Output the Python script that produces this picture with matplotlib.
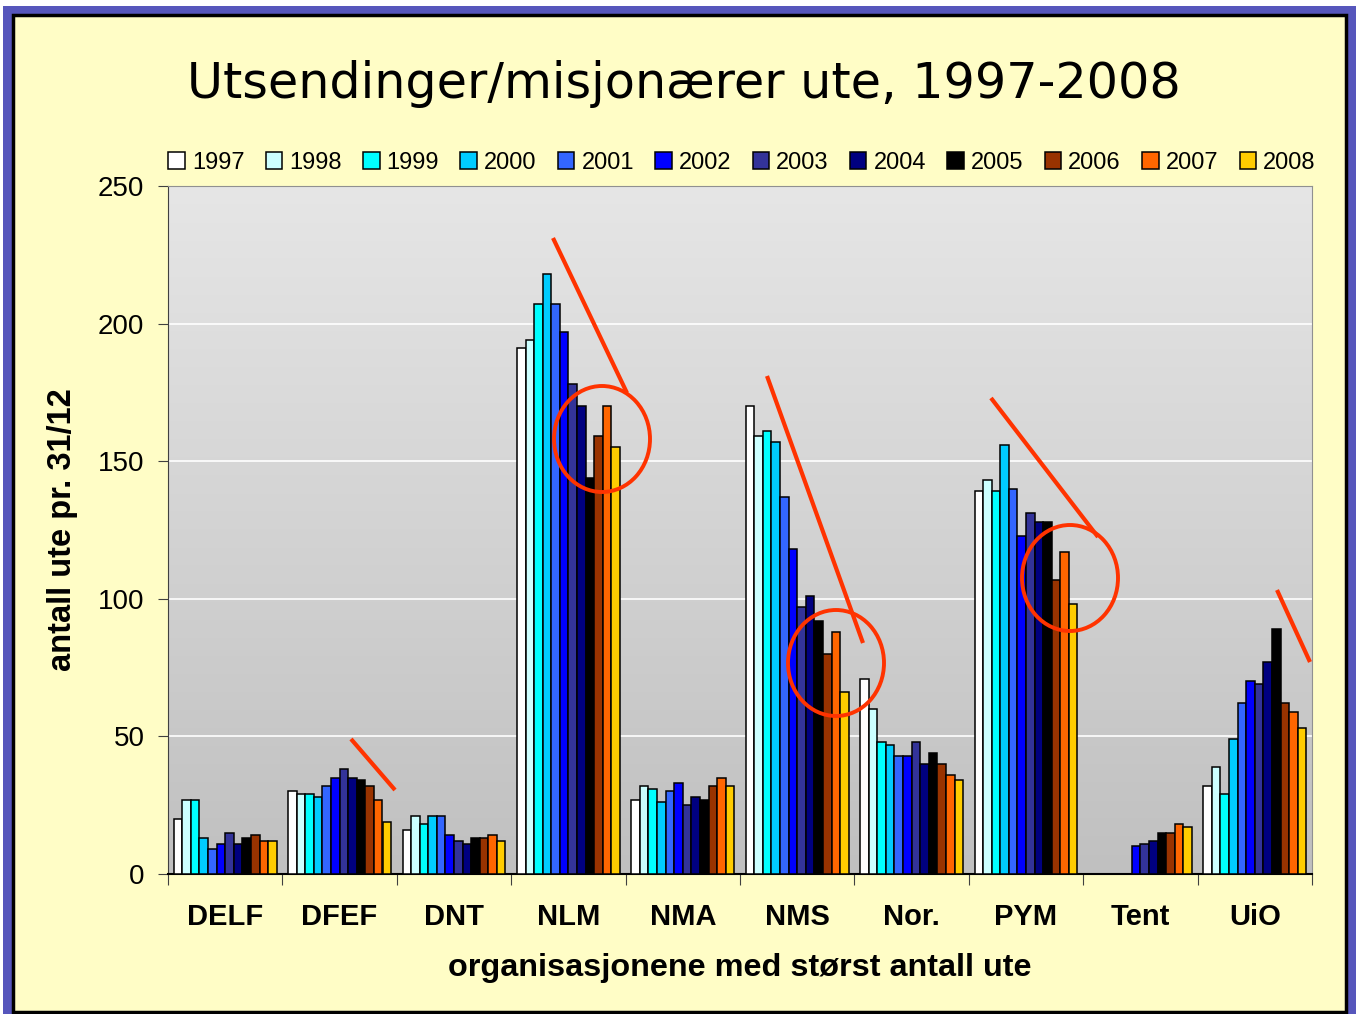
import numpy as np
import matplotlib.pyplot as plt
from matplotlib.patches import Rectangle, Ellipse

# data
orgs = ['DELF', 'DFEF', 'DNT', 'NLM', 'NMA', 'NMS', 'Nor.', 'PYM', 'Tent', 'UiO']
years = ['1997', '1998', '1999', '2000', '2001', '2002',
         '2003', '2004', '2005', '2006', '2007', '2008']

DELF = [20, 27, 27, 13, 9, 11, 15, 11, 13, 14, 12, 12]
DFEF = [30, 29, 29, 28, 32, 35, 38, 35, 34, 32, 27, 19]
DNT = [16, 21, 18, 21, 21, 14, 12, 11, 13, 13, 14, 12]
NLM = [191, 194, 207, 218, 207, 197, 178, 170, 144, 159, 170, 155]
NMA = [27, 32, 31, 26, 30, 33, 25, 28, 27, 32, 35, 32]
NMS = [170, 159, 161, 157, 137, 118, 97, 101, 92, 80, 88, 66]
NOR = [71, 60, 48, 47, 43, 43, 48, 40, 44, 40, 36, 34]
PYM = [139, 143, 139, 156, 140, 123, 131, 128, 128, 107, 117, 98]
TENT = [0, 0, 0, 0, 0, 10, 11, 12, 15, 15, 18, 17]
UIO = [32, 39, 29, 49, 62, 70, 69, 77, 89, 62, 59, 53]

colors = ['#FFFFFF', '#CCFFFF', '#00FFFF', '#00CCFF', '#3366FF', '#0000FF',
          '#333399', '#000080', '#000000', '#993300', '#FF6600', '#FFCC00']

values = np.array([DELF, DFEF, DNT, NLM, NMA, NMS, NOR, PYM, TENT, UIO])

W, H = 1359, 1014
fig = plt.figure(figsize=(W / 100, H / 100), dpi=100, facecolor='white')

# slide-like frame in pixel coordinates
bg = fig.add_axes([0, 0, 1, 1], zorder=0)
bg.set_xlim(0, W)
bg.set_ylim(H, 0)
bg.axis('off')
bg.add_patch(Rectangle((3, 6), W - 6, H - 6, facecolor='#5656BC', edgecolor='none'))
bg.add_patch(Rectangle((13, 15), W - 26, H - 17, facecolor='#FFFDC6',
                       edgecolor='black', linewidth=2.5))

# main chart
ax = fig.add_axes([168 / W, 1 - 874 / H, (1312 - 168) / W, (874 - 186) / H], zorder=1)
grad = np.linspace(0, 1, 256).reshape(-1, 1)
ax.imshow(grad, cmap=plt.matplotlib.colors.LinearSegmentedColormap.from_list(
    'g', ['#E6E6E6', '#C0C0C0']), aspect='auto', extent=[0, 1, 0, 1],
    transform=ax.transAxes, zorder=0)

n = len(years)
bw = 0.075
x = np.arange(len(orgs))
for i, yr in enumerate(years):
    ax.bar(x - (n - 1) / 2 * bw + i * bw, values[:, i], width=bw,
           color=colors[i], edgecolor='black', linewidth=1.1, label=yr, zorder=3)

ax.set_xlim(-0.5, len(orgs) - 0.5)
ax.set_ylim(0, 250)
ax.set_yticks(range(0, 251, 50))
for v in range(50, 251, 50):
    ax.axhline(v, color='white', linewidth=1.2, zorder=1)

ax.set_xticks(np.arange(-0.5, len(orgs), 1))
ax.set_xticklabels([])
ax.set_xticks(x, minor=True)
ax.set_xticklabels(orgs, minor=True, fontsize=21, fontweight='bold',
                   family='Liberation Sans')
ax.tick_params(axis='x', which='major', direction='out', length=8, color='#404040')
ax.tick_params(axis='x', which='minor', length=0, pad=21)
ax.tick_params(axis='y', direction='out', length=7, pad=10, labelsize=20,
               color='#404040')
for lab in ax.get_yticklabels():
    lab.set_family('Liberation Sans')

for s in ['top', 'right']:
    ax.spines[s].set_color('#909090')
ax.spines['left'].set_color('#404040')
ax.spines['bottom'].set_color('black')
ax.spines['bottom'].set_linewidth(1.5)

ax.set_ylabel('antall ute pr. 31/12', fontsize=23.5, fontweight='bold',
              family='Liberation Sans')
ax.yaxis.set_label_coords((78 - 168) / (1312 - 168), 0.5)
fig.text(740 / W, 1 - 968 / H, 'organisasjonene med størst antall ute',
         ha='center', va='center', fontsize=23.3, fontweight='bold',
         family='Liberation Sans')

fig.text(684 / W, 1 - 84 / H, 'Utsendinger/misjonærer ute, 1997-2008',
         ha='center', va='center', fontsize=35.5, family='DejaVu Sans')

leg = fig.legend(loc='center', bbox_to_anchor=(742 / W, 1 - 163 / H), ncol=12,
                 frameon=False, handlelength=0.7, handleheight=0.7,
                 handletextpad=0.3, columnspacing=0.9,
                 prop={'family': 'Liberation Sans', 'size': 17})

# hand-drawn red highlights from the slide
ov = fig.add_axes([0, 0, 1, 1], zorder=5)
ov.set_xlim(0, W)
ov.set_ylim(H, 0)
ov.axis('off')
ov.patch.set_alpha(0)
red = '#FF3300'
marks = [((351, 739), (395, 790)), ((553, 238), (627, 393)),
         ((767, 376), (863, 643)), ((991, 398), (1098, 537)),
         ((1277, 590), (1310, 662))]
for (x0, y0), (x1, y1) in marks:
    ov.plot([x0, x1], [y0, y1], color=red, linewidth=3, solid_capstyle='butt')
for cx, cy in [(602, 439), (836, 663), (1070, 578)]:
    ov.add_patch(Ellipse((cx, cy), 96, 106, fill=False, edgecolor=red, linewidth=2.8))

fig.savefig('out.png', dpi=100)
